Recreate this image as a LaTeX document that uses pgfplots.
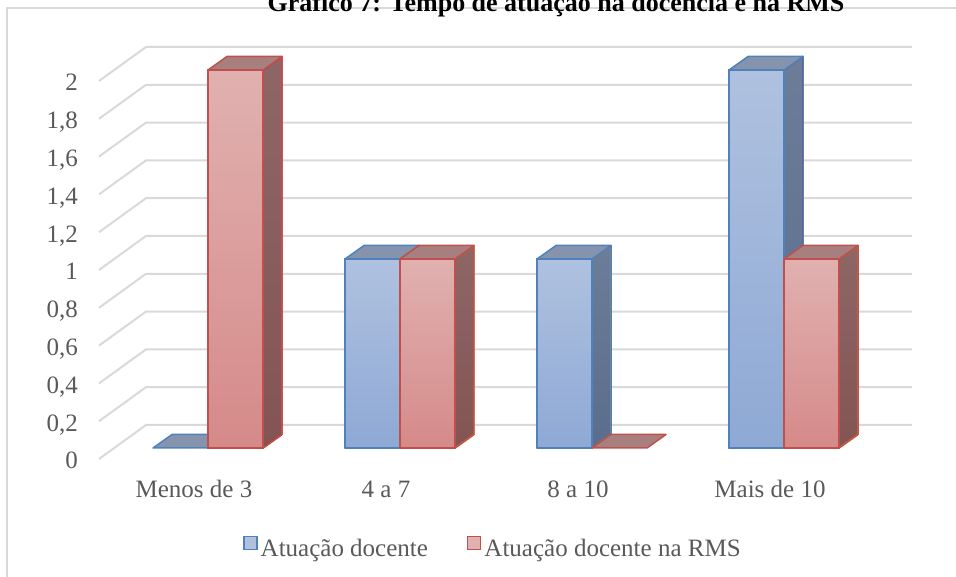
\documentclass[border=0pt]{standalone}
\usepackage{pgfplots}
\pgfplotsset{compat=1.18}
\usepackage{pgfplotstable}
\usepackage{fontspec}
\setmainfont{Liberation Serif}

\definecolor{gridgray}{HTML}{D9D9D9}
\definecolor{txtgray}{HTML}{595959}
\definecolor{blueedge}{HTML}{4F81BD}
\definecolor{bluelight}{HTML}{AFC1DF}
\definecolor{bluedark}{HTML}{8EA9D5}
\definecolor{bluesideA}{HTML}{6C7D98}
\definecolor{bluesideB}{HTML}{5A6D8C}
\definecolor{bluetop}{HTML}{8594AC}
\definecolor{rededge}{HTML}{C0504D}
\definecolor{redlight}{HTML}{E0B1B0}
\definecolor{reddark}{HTML}{D58A89}
\definecolor{redsideA}{HTML}{8E6666}
\definecolor{redsideB}{HTML}{845454}
\definecolor{redtop}{HTML}{A87F7F}

% years of teaching, per range
\pgfplotstableread{
x v
0 0
1 1
2 1
3 2
}\docente
\pgfplotstableread{
x v
0 2
1 1
2 0
3 1
}\rms

% a bar drawn as a box: front face, right side and top, origin at the top front centre
\newdimen\cubh
\newcommand\defcuboid[7]{% name, light, dark, side top, side bottom, top, edge
  \pgfdeclareplotmark{#1}{%
    \pgfmathsetlength\cubh{\barv*189pt}%
    \begin{scope}[line width=1.5pt, line join=round]
      \ifdim\cubh>0.01pt
        \shade[top color=#2, bottom color=#3] (-27.5pt,0pt) rectangle (27.5pt,-\cubh);
        \shade[top color=#4, bottom color=#5] (27.5pt,0pt) -- ++(19pt,13.5pt) -- ++(0pt,-\cubh) -- ++(-19pt,-13.5pt) -- cycle;
        \draw[#7] (27.5pt,0pt) -- ++(19pt,13.5pt) -- ++(0pt,-\cubh) -- ++(-19pt,-13.5pt) -- cycle;
        \draw[#7] (-27.5pt,0pt) rectangle (27.5pt,-\cubh);
      \fi
      \filldraw[fill=#6, draw=#7] (-27.5pt,0pt) -- ++(19pt,13.5pt) -- ++(55pt,0pt) -- ++(-19pt,-13.5pt) -- cycle;
    \end{scope}%
  }}
\defcuboid{cuboidblue}{bluelight}{bluedark}{bluesideA}{bluesideB}{bluetop}{blueedge}
\defcuboid{cuboidred}{redlight}{reddark}{redsideA}{redsideB}{redtop}{rededge}

\begin{document}
\begin{tikzpicture}
\begin{axis}[
  x=192pt, y=189pt,
  xmin=-0.5, xmax=3.5, ymin=0, ymax=2,
  clip=false,
  axis line style={draw=none},
  tick style={draw=none},
  xtick={0,1,2,3},
  xticklabels={Menos de 3, 4 a 7, 8 a 10, Mais de 10},
  ytick={0,0.2,0.4,0.6,0.8,1,1.2,1.4,1.6,1.8,2},
  /pgf/number format/use comma,
  /pgf/number format/fixed,
  /pgf/number format/precision=1,
  /pgf/number format/assume math mode=true,
  tick label style={font=\fontsize{25}{30}\selectfont, text=txtgray},
  xticklabel style={anchor=base, xshift=-14pt, yshift=-50pt},
  yticklabel style={anchor=base east, inner xsep=0pt, xshift=-34pt, yshift=-21pt},
  legend columns=2,
  legend style={draw=none, fill=none, inner sep=0pt,
    at={(0.1706,-0.2619)}, anchor=west,
    font=\fontsize{25}{30}\selectfont, text=txtgray,
    nodes={inner xsep=3pt, inner ysep=0pt},
    /tikz/every even column/.append style={column sep=36pt}},
]
% floor lines and back wall, behind the bars
\pgfplotsinvokeforeach{0,0.2,0.4,0.6,0.8,1,1.2,1.4,1.6,1.8,2}{
  \draw[gridgray, line width=2pt]
    ([xshift=-13pt,yshift=-11pt]axis cs:-0.5,#1) --
    ([xshift=34pt,yshift=23pt]axis cs:-0.5,#1) --
    ([xshift=32pt,yshift=23pt]axis cs:3.5,#1);
}
\coordinate (O) at (axis cs:-0.5,0);

\addplot[scatter, only marks, mark=cuboidblue,
  visualization depends on={\thisrow{v} \as \barv},
  legend image code/.code={\draw[fill=bluelight, draw=blueedge, line width=1.5pt] (0pt,-0.5pt) rectangle (13pt,12.5pt);}]
  table[x expr=\thisrow{x}-0.1432, y=v] {\docente};
\addlegendentry{Atuação docente}
\addplot[scatter, only marks, mark=cuboidred,
  visualization depends on={\thisrow{v} \as \barv},
  legend image code/.code={\draw[fill=redlight, draw=rededge, line width=1.5pt] (0pt,-0.5pt) rectangle (13pt,12.5pt);}]
  table[x expr=\thisrow{x}+0.1432, y=v] {\rms};
\addlegendentry{Atuação docente na RMS}
\end{axis}

% chart frame and title
\draw[gridgray, line width=2pt] ([shift={(-105pt,-200pt)}]O) -- ([shift={(-105pt,440pt)}]O) -- ([shift={(900pt,440pt)}]O);
\node[anchor=base, inner sep=0pt, font=\bfseries\fontsize{26}{30}\selectfont]
  at ([shift={(444pt,436pt)}]O) {Gráfico 7: Tempo de atuação na docência e na RMS};

\pgfresetboundingbox
\path[use as bounding box] ([shift={(-112pt,-129pt)}]O) rectangle ([shift={(844pt,448pt)}]O);
\end{tikzpicture}
\end{document}
